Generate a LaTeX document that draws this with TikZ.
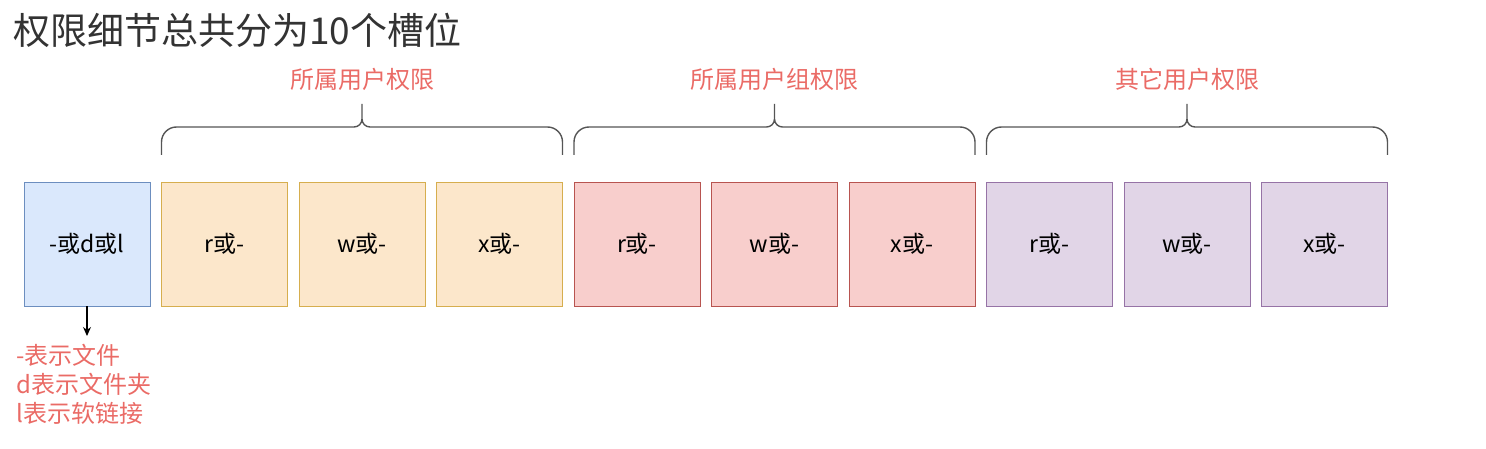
\documentclass[tikz,border=0pt]{standalone}
\usepackage{fontspec}
\setmainfont{Noto Sans CJK SC}
\usetikzlibrary{positioning,calc,arrows.meta}
\definecolor{typefill}{HTML}{DAE8FC}
\definecolor{typedraw}{HTML}{6C8EBF}
\definecolor{ownerfill}{HTML}{FCE7CB}
\definecolor{ownerdraw}{HTML}{D6AE4E}
\definecolor{groupfill}{HTML}{F8CECC}
\definecolor{groupdraw}{HTML}{B85450}
\definecolor{otherfill}{HTML}{E1D5E7}
\definecolor{otherdraw}{HTML}{9673A6}
\definecolor{notered}{HTML}{EA6B66}
\definecolor{titlegray}{HTML}{333333}
\definecolor{bracegray}{HTML}{555555}
\tikzset{
slots/.style={
    x=1pt,
    y=1pt,
    node distance=11.5pt
},
slot/.style={
    rectangle,
    draw,
    line width=1pt,
    outer sep=0pt,
    minimum width=126pt,
    minimum height=124pt,
    font=\fontsize{23}{27}\selectfont
},
typeslot/.style={
    slot,
    fill=typefill,
    draw=typedraw
},
ownerslot/.style={
    slot,
    fill=ownerfill,
    draw=ownerdraw
},
groupslot/.style={
    slot,
    fill=groupfill,
    draw=groupdraw
},
otherslot/.style={
    slot,
    fill=otherfill,
    draw=otherdraw
},
bracket/.style={
    draw=bracegray,
    line width=1.4pt
},
grouplabel/.style={
    text=notered,
    inner sep=0pt,
    font=\fontsize{24}{28}\selectfont
},
note/.style={
    text=notered,
    align=left,
    inner sep=0pt,
    font=\fontsize{24}{29}\selectfont
},
points/.style={
    -{Stealth[length=9pt,width=8pt]},
    line width=1.2pt,
    shorten >=8pt
}}
\newcommand{\slotbrace}[4]{%
  \path ([yshift=27pt]#1.north west) coordinate (#3-l)
        ([yshift=27pt]#2.north east) coordinate (#3-r);
  \coordinate (#3-m) at ($(#3-l)!.5!(#3-r)$);
  \draw[bracket] (#3-l) -- ++(0,13) arc[start angle=180,end angle=90,radius=15]
    -- ([xshift=-8pt,yshift=28pt]#3-m) arc[start angle=270,end angle=360,radius=8]
    -- ++(0,15) ++(0,-15) arc[start angle=180,end angle=270,radius=8]
    -- ([xshift=-15pt,yshift=28pt]#3-r) arc[start angle=90,end angle=0,radius=15]
    -- (#3-r);
  \node[grouplabel] (#3-label) at ([yshift=76pt]#3-m) {#4};
}

\begin{document}
\begin{tikzpicture}[slots]
\useasboundingbox (0,0) rectangle (1486,448);
\node[anchor=west, inner sep=0pt, text=titlegray, font=\fontsize{37}{41}\selectfont] (title) at (13,418) {权限细节总共分为10个槽位};

\node[typeslot]     (s0)    at (87,204)        {-或d或l};
\node[ownerslot]    (s1)    [right=of s0]      {r或-};
\node[ownerslot]    (s2)    [right=of s1]      {w或-};
\node[ownerslot]    (s3)    [right=of s2]      {x或-};
\node[groupslot]    (s4)    [right=of s3]      {r或-};
\node[groupslot]    (s5)    [right=of s4]      {w或-};
\node[groupslot]    (s6)    [right=of s5]      {x或-};
\node[otherslot]    (s7)    [right=of s6]      {r或-};
\node[otherslot]    (s8)    [right=of s7]      {w或-};
\node[otherslot]    (s9)    [right=of s8]      {x或-};

\slotbrace{s1}{s3}{owner}{所属用户权限}
\slotbrace{s4}{s6}{group}{所属用户组权限}
\slotbrace{s7}{s9}{other}{其它用户权限}

\node[note, anchor=north west] (typenote) at (16,104) {-表示文件\\d表示文件夹\\l表示软链接};
\draw[points] (s0.south) -- (s0.south |- typenote.north);
\end{tikzpicture}
\end{document}
